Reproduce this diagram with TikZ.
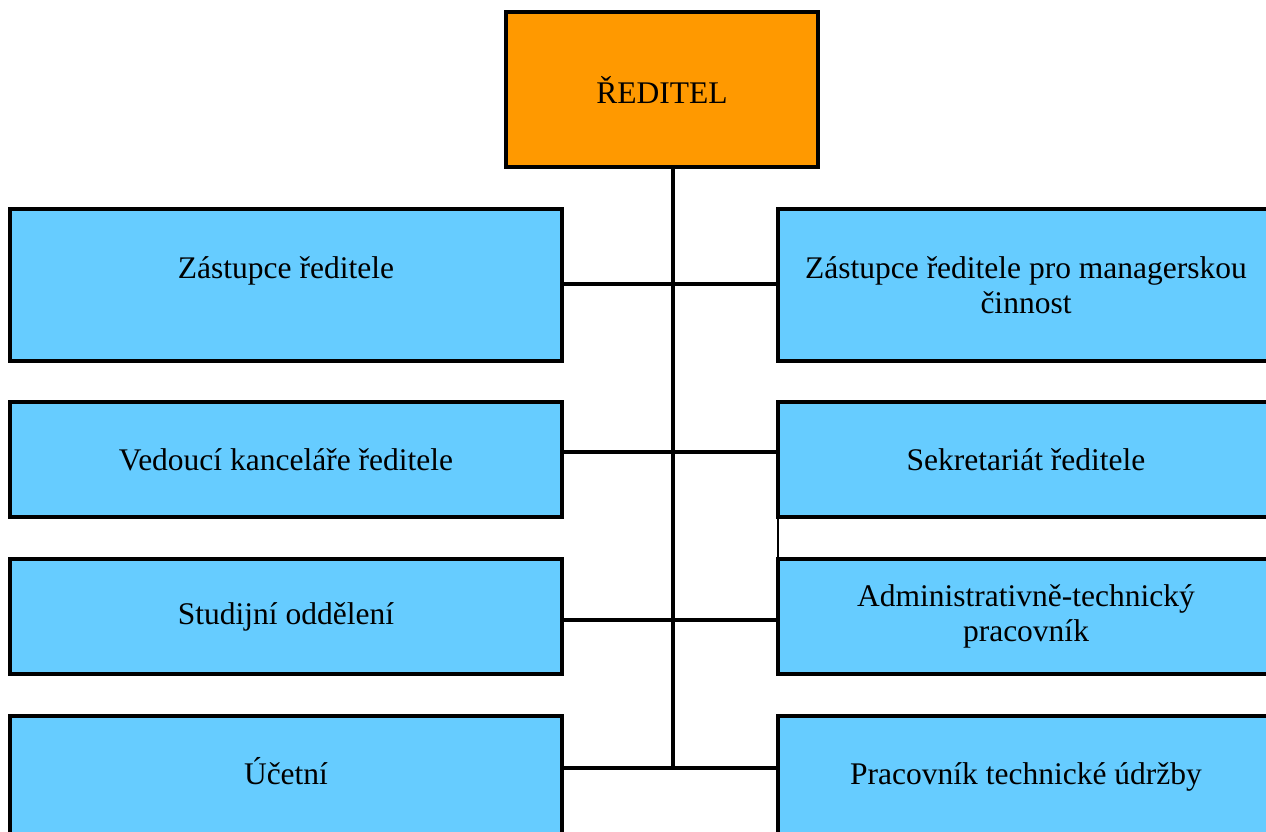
\documentclass[tikz,border=0pt]{standalone}
\usepackage{fontspec}
\setmainfont{Liberation Serif}
\definecolor{boxblue}{HTML}{66CCFF}
\definecolor{boxorange}{HTML}{FF9900}
\begin{document}
\begin{tikzpicture}[x=1pt,y=-1pt,
  box/.style={draw=black, line width=4pt, fill=boxblue, inner sep=0pt, outer sep=0pt,
    anchor=north west, align=center,
    font=\fontsize{31.5}{35}\selectfont},
  lbox/.style={box, minimum width=552pt},
  rbox/.style={box, minimum width=496pt},
  lastrow/.style={minimum height=130pt, text height=22pt, text depth=15pt},
  link/.style={draw=black, line width=4pt}]
\useasboundingbox (0,0) rectangle (1266,831);
\clip (0,0) rectangle (1266,831);
\node[box, fill=boxorange, minimum width=312pt, minimum height=155pt] (top) at (506,12) {ŘEDITEL};
\node[lbox, minimum height=152pt] (l1) at (10,209) {Zástupce ředitele\\\mbox{}};
\node[rbox, minimum height=152pt] (r1) at (778,209) {Zástupce ředitele pro managerskou\\činnost};
\node[lbox, minimum height=115pt] (l2) at (10,402) {Vedoucí kanceláře ředitele};
\node[rbox, minimum height=115pt] (r2) at (778,402) {Sekretariát ředitele};
\node[lbox, minimum height=115pt] (l3) at (10,559) {Studijní oddělení};
\node[rbox, minimum height=115pt] (r3) at (778,559) {Administrativně-technický\\pracovník};
\node[lbox, lastrow] (l4) at (10,716) {Účetní};
\node[rbox, lastrow] (r4) at (778,716) {Pracovník technické údržby};
\coordinate (t) at ([xshift=11pt]top.south);
\coordinate (c4) at ([yshift=13pt]l4.east);
\draw[link] (t) -- (t |- c4);
\draw[link] ([yshift=1pt]l1.east) -- ([yshift=1pt]r1.west);
\draw[link] ([yshift=7.5pt]l2.east) -- ([yshift=7.5pt]r2.west);
\draw[link] ([yshift=-3.5pt]l3.east) -- ([yshift=-3.5pt]r3.west);
\draw[link] (c4) -- ([yshift=13pt]r4.west);
\draw[line width=1.5pt] (r2.south west) -- (r3.north west);
\end{tikzpicture}
\end{document}
